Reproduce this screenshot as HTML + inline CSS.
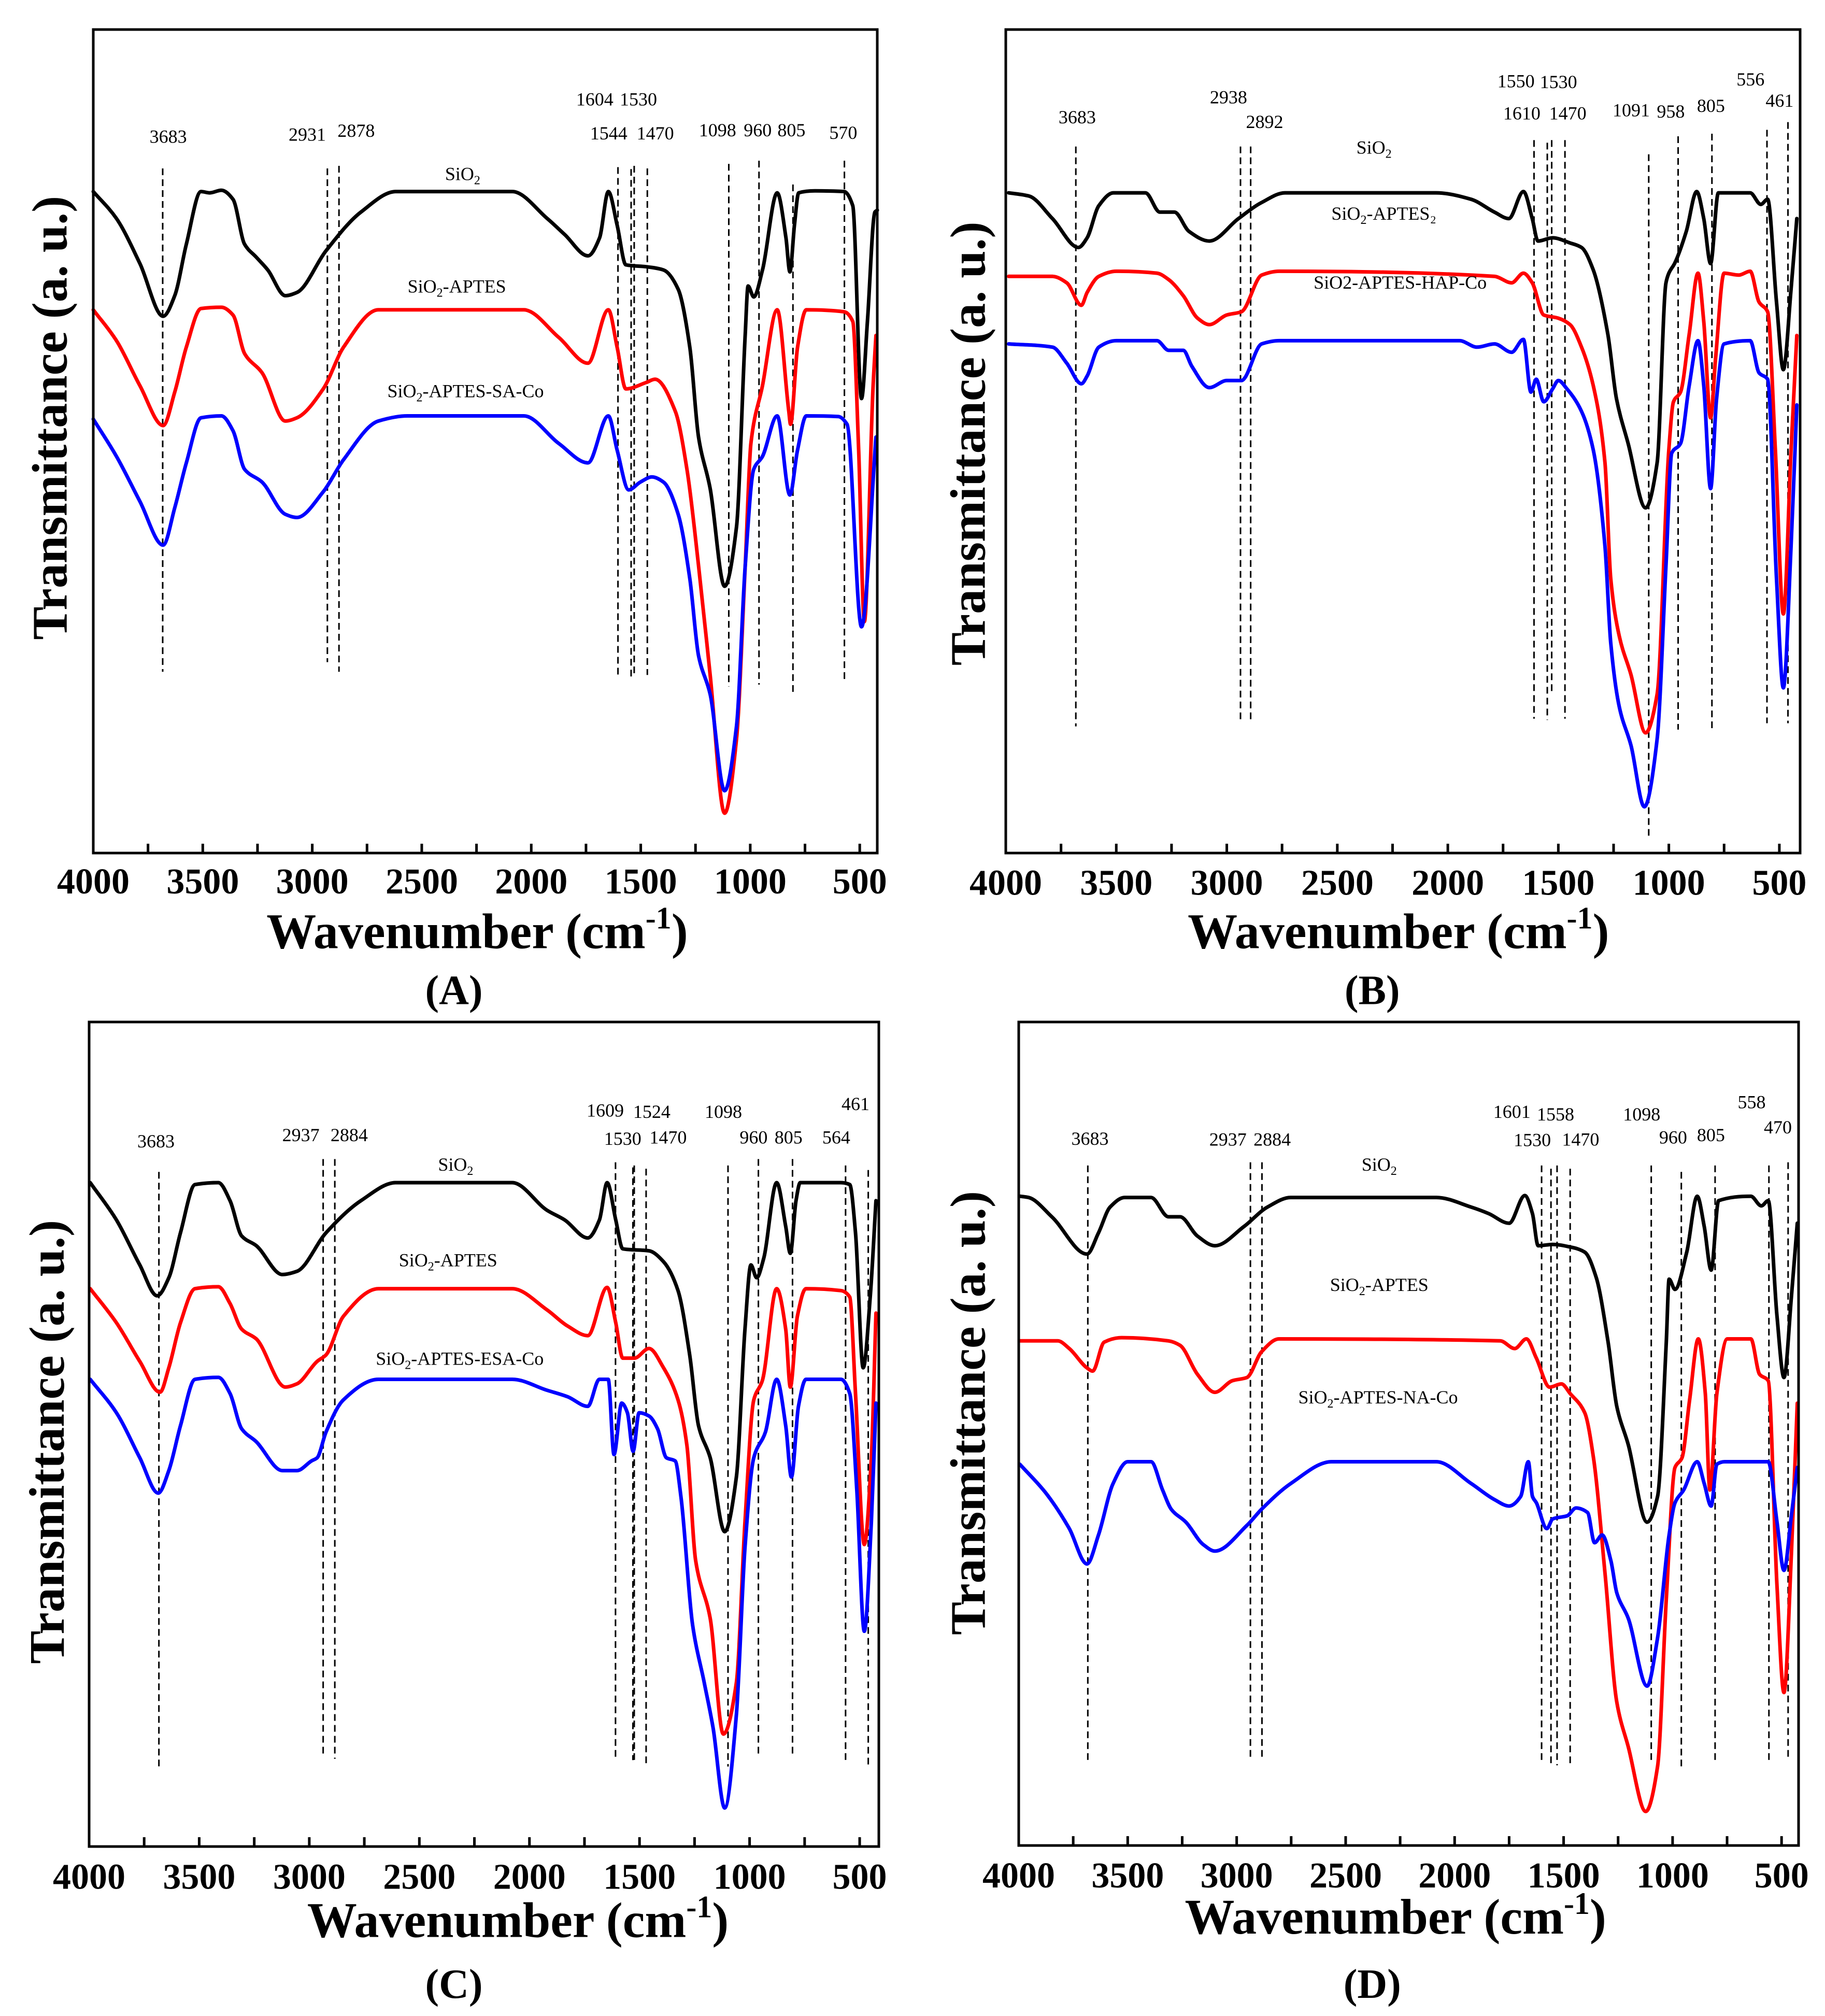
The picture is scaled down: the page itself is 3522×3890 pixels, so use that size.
<!DOCTYPE html>
<html><head><meta charset="utf-8">
<style>
html,body{margin:0;padding:0;background:#fff;}
svg{display:block;}
text{font-family:"Liberation Serif","DejaVu Serif",serif;}
</style></head>
<body>
<svg id="fig" width="3522" height="3890" viewBox="0 0 3522 3890" xmlns="http://www.w3.org/2000/svg"></svg>
<script>
// ===== Panel A data =====
const aSiO2Wn=[4000,3894,3787,3681,3628,3575,3508,3468,3415,3362,3309,3256,3203,3123,3070,2937,2778,2618,2087,1927,1847,1741,1688,1648,1608,1568,1475,1396,1329,1276,1236,1183,1117,1063,1023,1010,984,944,877,837,819,798,779,705,572,532,492,465,431,420];
const aSiO2T=[1029,987,917,835,867,947,1029,1027,1031,1017,947,927,907,867,872,937,997,1029,1029,987,962,929,957,1029,977,915,912,907,877,787,647,567,415,507,807,882,865,907,1027,957,904,977,1027,1030,1029,1007,707,827,997,1000];
const aAptesWn=[4000,3894,3787,3681,3628,3575,3508,3415,3362,3309,3229,3123,3070,2950,2857,2698,2034,1874,1741,1648,1608,1568,1475,1435,1342,1289,1236,1183,1117,1063,1023,997,944,877,824,816,784,744,572,532,505,479,439,426];
const aAptesT=[845,797,727,665,717,787,847,849,837,777,747,672,677,722,787,845,845,802,762,845,787,722,732,737,687,597,447,277,62,177,447,637,727,845,687,667,787,845,842,827,627,360,727,805];
const aCoWn=[4000,3894,3787,3681,3628,3575,3508,3415,3362,3309,3229,3123,3070,2950,2857,2698,2565,2034,1874,1741,1648,1608,1555,1502,1449,1396,1329,1276,1236,1183,1117,1063,1023,984,944,877,819,784,744,598,558,492,426];
const aCoT=[675,617,547,479,537,607,677,680,657,597,577,527,522,562,612,672,680,680,637,607,680,627,565,577,585,577,527,427,307,247,97,197,447,597,617,680,557,627,680,679,667,352,647];
const aPeaks=[3683,2931,2878,1604,1544,1530,1470,1098,960,805,570];
// ===== Panel B data =====
const bSiO2Wn=[3987,3895,3789,3671,3632,3579,3513,3368,3303,3237,3171,3079,2947,2842,2737,2053,1895,1789,1724,1658,1618,1592,1526,1447,1395,1342,1276,1237,1184,1105,1053,1013,1000,974,921,874,842,811,776,632,584,553,513,482,447,421];
const bSiO2T=[1027,1022,987,942,957,1007,1027,1027,997,997,967,952,987,1012,1027,1027,1017,997,987,1029,987,952,957,949,942,907,807,707,637,537,607,887,902,917,967,1029,987,917,1027,1027,1009,1017,857,752,877,987];
const bAptesWn=[3987,3789,3724,3658,3632,3579,3500,3316,3263,3197,3132,3079,3000,2934,2842,2763,1789,1711,1658,1618,1566,1500,1447,1395,1342,1289,1263,1224,1171,1105,1053,1000,979,947,908,868,842,811,789,750,684,632,592,553,518,482,447,421];
const bAptesT=[897,897,887,852,872,897,905,902,892,867,832,822,837,842,899,905,897,887,902,887,837,832,822,787,727,607,427,337,277,187,247,627,702,717,807,902,827,677,767,902,899,905,857,842,627,372,627,805];
const bCoWn=[3987,3789,3724,3658,3632,3579,3500,3316,3263,3197,3158,3079,3000,2934,2842,2763,1947,1868,1789,1711,1658,1624,1600,1566,1526,1500,1461,1395,1342,1289,1263,1224,1171,1111,1053,1013,987,947,908,868,842,811,784,750,632,592,553,513,482,447,421];
const bCoT=[792,787,762,730,742,787,797,797,782,782,757,724,735,735,792,797,797,787,792,779,799,717,737,702,722,735,722,687,627,477,327,227,167,72,177,447,622,637,727,797,727,567,707,792,797,747,737,427,257,477,697];
const bPeaks=[3683,2938,2892,1610,1550,1530,1470,1091,958,805,556,461];
// ===== Panel C data =====
const cSiO2Wn=[3995,3876,3770,3691,3638,3585,3519,3413,3360,3307,3241,3122,3056,2924,2765,2607,2078,1920,1840,1735,1682,1647,1608,1576,1457,1391,1325,1272,1232,1179,1113,1060,1021,994,968,936,877,836,815,789,770,585,545,519,484,452,426];
const cSiO2T=[1033,975,905,857,885,955,1030,1033,1005,950,935,890,895,955,1005,1033,1033,990,975,947,975,1033,975,930,927,910,865,765,655,605,490,575,805,905,885,915,1033,965,923,1005,1033,1033,1030,955,745,855,1005];
const cAptesWn=[3995,3876,3770,3678,3638,3585,3519,3413,3360,3307,3241,3109,3056,2964,2924,2845,2686,2078,1920,1827,1735,1647,1608,1576,1523,1457,1391,1325,1285,1245,1179,1119,1060,1021,981,942,877,836,815,783,744,585,545,519,479,447,426];
const cAptesT=[868,815,755,707,745,815,868,871,845,805,790,715,720,755,765,825,868,868,835,810,795,870,815,760,760,775,745,695,625,445,355,175,255,505,695,725,868,805,715,825,868,865,855,705,470,605,830];
const cCoWn=[3995,3876,3770,3686,3638,3585,3519,3413,3360,3307,3241,3122,3056,2990,2964,2924,2845,2686,2078,1920,1827,1735,1682,1642,1616,1581,1555,1529,1502,1457,1418,1378,1338,1312,1259,1206,1166,1113,1060,1021,981,928,877,836,810,778,744,585,545,513,479,447,426];
const cCoT=[727,675,605,550,585,655,727,730,705,650,630,585,585,600,605,645,695,727,727,710,700,685,727,727,610,690,675,615,675,670,650,605,600,545,345,255,185,60,205,465,605,645,727,655,575,685,727,727,705,555,335,505,690];
const cPeaks=[3683,2937,2884,1609,1530,1524,1470,1098,960,805,564,461];
// ===== Panel D data =====
const dSiO2Wn=[3995,3955,3848,3687,3634,3581,3514,3393,3313,3260,3180,3100,2966,2859,2752,2084,1924,1844,1750,1678,1643,1617,1550,1470,1403,1350,1296,1256,1203,1117,1069,1029,1016,989,935,887,855,823,789,641,593,561,521,489,455,428];
const dSiO2T=[1010,1008,978,920,953,993,1008,1008,978,978,948,933,963,993,1008,1008,993,983,968,1011,983,933,935,931,923,883,783,683,623,503,543,783,881,865,923,1010,963,895,1003,1010,995,1003,823,728,853,968];
const dAptesWn=[3995,3821,3768,3687,3661,3608,3528,3313,3260,3180,3100,3020,2953,2886,2806,1791,1724,1671,1625,1564,1510,1470,1403,1363,1310,1256,1203,1123,1069,1029,989,957,922,882,850,829,797,749,641,601,561,521,489,455,428];
const dAptesT=[785,785,773,743,738,783,790,785,778,733,705,723,728,768,788,785,773,788,758,713,718,703,673,603,423,223,153,53,123,383,588,603,693,788,703,553,703,788,788,733,723,403,238,453,688];
const dCoWn=[3995,3875,3768,3687,3634,3567,3500,3393,3340,3300,3233,3153,3100,2953,2886,2752,2565,2084,1924,1817,1750,1697,1662,1643,1625,1577,1550,1483,1443,1390,1358,1323,1283,1256,1203,1117,1069,1016,989,949,887,855,823,797,762,561,521,489,455,428];
const dCoT=[593,548,493,438,483,563,597,597,553,523,503,468,458,498,523,563,597,597,563,538,528,543,597,543,533,493,508,513,525,518,471,483,443,393,353,248,323,483,533,553,597,563,528,593,597,597,503,428,513,588];
const dPeaks=[3683,2937,2884,1601,1558,1530,1470,1098,960,805,558,470];
const tickValues=[4000,3500,3000,2500,2000,1500,1000,500];
const tickLabels=["4000","3500","3000","2500","2000","1500","1000","500"];

const NS="http://www.w3.org/2000/svg";
const svg=document.getElementById('fig');
const SX=1.1231, SY=1.2404;
function mk(tag,attrs,parent){const e=document.createElementNS(NS,tag);for(const k in attrs)e.setAttribute(k,attrs[k]);(parent||svg).appendChild(e);return e;}
// monotone-x cubic (Fritsch-Carlson), x strictly increasing
function smoothPath(pts){
  const n=pts.length, dx=[], m=[], t=[];
  for(let i=0;i<n-1;i++){dx[i]=pts[i+1][0]-pts[i][0];m[i]=(pts[i+1][1]-pts[i][1])/dx[i];}
  t[0]=m[0];t[n-1]=m[n-2];
  for(let i=1;i<n-1;i++){
    if(m[i-1]*m[i]<=0)t[i]=0;
    else{const w1=2*dx[i]+dx[i-1],w2=dx[i]+2*dx[i-1];t[i]=(w1+w2)/(w1/m[i-1]+w2/m[i]);}
  }
  let d='M'+pts[0][0].toFixed(1)+' '+pts[0][1].toFixed(1);
  for(let i=0;i<n-1;i++){
    const h=dx[i]/3;
    d+='C'+(pts[i][0]+h).toFixed(1)+' '+(pts[i][1]+t[i]*h).toFixed(1)+' '+(pts[i+1][0]-h).toFixed(1)+' '+(pts[i+1][1]-t[i+1]*h).toFixed(1)+' '+pts[i+1][0].toFixed(1)+' '+pts[i+1][1].toFixed(1);
  }
  return d;
}

const panels=[
 {id:'a',letter:'(A)',ox:0,oy:0,L:180,R:1693,T:57,B:1646,xEnd:420,bz:1327,H:1281,
  series:[[aSiO2Wn,aSiO2T,'#000'],[aAptesWn,aAptesT,'#ff0000'],[aCoWn,aCoT,'#0000ff']],
  peaks:aPeaks, peakY:[[262,1045],[262,1030],[258,1045],[260,1050],[263,1055],[258,1050],[262,1050],[255,1068],[250,1065],[287,1077],[250,1062]],
  ann:[["3683",289,222],["2931",528,219],["2878",612,213],["1604",1022,164],["1530",1097,164],["1544",1046,217],["1470",1126,217],["1098",1233,212],["960",1302,212],["805",1360,212],["570",1449,216]],
  names:[["SiO","2","",795,280],["SiO","2","-APTES",785,455],["SiO","2","-APTES-SA-Co",800,618]],
  ytitle:[85,650],xtitle:[820,1475],tickBase:1390,letterPos:[780,1562]},
 {id:'b',letter:'(B)',ox:1761,oy:0,L:1941,R:3474,T:57,B:1646,xEnd:406,bz:1327,H:1281,
  series:[[bSiO2Wn,bSiO2T,'#000'],[bAptesWn,bAptesT,'#ff0000'],[bCoWn,bCoT,'#0000ff']],
  peaks:bPeaks, peakY:[[228,1130],[228,1125],[228,1125],[218,1118],[222,1120],[218,1075],[218,1118],[240,1300],[212,1135],[208,1135],[202,1125],[190,1125]],
  ann:[["3683",283,192],["2938",543,161],["2892",605,199],["1550",1037,136],["1530",1110,137],["1610",1047,186],["1470",1126,186],["1091",1235,181],["958",1303,183],["805",1372,174],["556",1440,133],["461",1490,166]],
  names:[["SiO","2","",793,239],["SiO","2","-APTES\u2082",810,342],["SiO2-APTES-HAP-Co","","",838,449]],
  ytitle:[95,690],xtitle:[835,1475],tickBase:1392,letterPos:[790,1562]},
 {id:'c',letter:'(C)',ox:0,oy:1945,L:172,R:1696,T:1972,B:3563,xEnd:413,bz:1305,H:1283,
  series:[[cSiO2Wn,cSiO2T,'#000'],[cAptesWn,cAptesT,'#ff0000'],[cCoWn,cCoT,'#0000ff']],
  peaks:cPeaks, peakY:[[255,1180],[235,1165],[235,1168],[240,1168],[248,1170],[245,1175],[250,1175],[245,1180],[235,1165],[235,1165],[245,1175],[252,1180]],
  ann:[["3683",268,217],["2937",517,207],["2884",600,207],["1609",1040,169],["1524",1120,171],["1530",1070,213],["1470",1148,211],["1098",1243,171],["960",1295,211],["805",1355,211],["564",1437,211],["461",1470,159]],
  names:[["SiO","2","",783,253],["SiO","2","-APTES",770,402],["SiO","2","-APTES-ESA-Co",790,555]],
  ytitle:[80,675],xtitle:[890,1445],tickBase:1370,letterPos:[780,1540]},
 {id:'d',letter:'(D)',ox:1761,oy:1945,L:1966,R:3471,T:1972,B:3561,xEnd:422,bz:1303,H:1281,
  series:[[dSiO2Wn,dSiO2T,'#000'],[dAptesWn,dAptesT,'#ff0000'],[dCoWn,dCoT,'#0000ff']],
  peaks:dPeaks, peakY:[[245,1170],[240,1165],[240,1170],[245,1172],[250,1175],[245,1178],[250,1175],[245,1170],[255,1180],[245,1170],[245,1170],[240,1165]],
  ann:[["3683",305,213],["2937",542,214],["2884",618,214],["1601",1030,171],["1558",1105,175],["1530",1065,215],["1470",1148,214],["1098",1253,175],["960",1307,211],["805",1372,207],["558",1442,156],["470",1487,195]],
  names:[["SiO","2","",802,253],["SiO","2","-APTES",802,440],["SiO","2","-APTES-NA-Co",800,615]],
  ytitle:[95,630],xtitle:[830,1440],tickBase:1368,letterPos:[790,1540]}
];
const seriesNames=['sio2','sio2-aptes','sio2-aptes-co'];

panels.forEach(p=>{
  const g=mk('g',{});
  
  
  const xs=v=>p.L+(4000-v)/(4000-p.xEnd)*(p.R-p.L);
  const ys=t=>p.B-t/p.H*(p.B-p.T);
  const zx=z=>p.ox+z*SX, zy=z=>p.oy+z*SY;
  p.peaks.forEach((v,i)=>{
    const l=mk('line',{x1:xs(v),x2:xs(v),y1:zy(p.peakY[i][0]),y2:zy(p.peakY[i][1]),stroke:'#000','stroke-width':3,'stroke-dasharray':'13 8'},g);
    
    
  });
  p.series.forEach((s,si)=>{
    const pts=s[0].map((w,i)=>[xs(w),ys(s[1][i])]);
    const path=mk('path',{d:smoothPath(pts),fill:'none',stroke:s[2],'stroke-width':7,'stroke-linejoin':'round','stroke-linecap':'round'},g);
    
    
  });
  const fr=mk('rect',{x:p.L,y:p.T,width:p.R-p.L,height:p.B-p.T,fill:'none',stroke:'#000','stroke-width':5},g);
  
  
  for(let v=4000;v>=500;v-=250){
    const t=mk('line',{x1:xs(v),x2:xs(v),y1:p.B,y2:p.B-18,stroke:'#000','stroke-width':5},g);
    
    
  }
  tickValues.forEach((v,i)=>{
    const t=mk('text',{x:xs(v),y:zy(p.tickBase),'font-size':70,'font-weight':'bold','text-anchor':'middle'},g);
    t.textContent=tickLabels[i];
    
    
  });
  p.ann.forEach(a=>{
    const t=mk('text',{x:zx(a[1]),y:zy(a[2]),'font-size':36,'text-anchor':'middle'},g);
    t.textContent=a[0];
    
    
  });
  p.names.forEach(n=>{
    const t=mk('text',{x:zx(n[3]),y:zy(n[4]),'font-size':36,'text-anchor':'middle'},g);
    
    
    const a=mk('tspan',{},t);a.textContent=n[0];
    if(n[1]){const b=mk('tspan',{dy:8,'font-size':24},t);b.textContent=n[1];
      if(n[2]){const c=mk('tspan',{dy:-8},t);c.textContent=n[2];}}
  });
  const yt=mk('text',{x:0,y:0,'font-size':96,'font-weight':'bold','text-anchor':'middle',transform:`translate(${zx(p.ytitle[0])+33},${zy(p.ytitle[1])}) rotate(-90)`},g);
  yt.textContent='Transmittance (a. u.)';
  
  
  const xt=mk('text',{x:zx(p.xtitle[0]),y:zy(p.xtitle[1]),'font-size':96,'font-weight':'bold','text-anchor':'middle'},g);
  
  
  const x1=mk('tspan',{},xt);x1.textContent='Wavenumber (cm';
  const x2=mk('tspan',{dy:-38,'font-size':60},xt);x2.textContent='-1';
  const x3=mk('tspan',{dy:38},xt);x3.textContent=')';
  const lt=mk('text',{x:zx(p.letterPos[0]),y:zy(p.letterPos[1]),'font-size':80,'font-weight':'bold','text-anchor':'middle'},g);
  lt.textContent=p.letter;
  
  
});
</script>
</body></html>
